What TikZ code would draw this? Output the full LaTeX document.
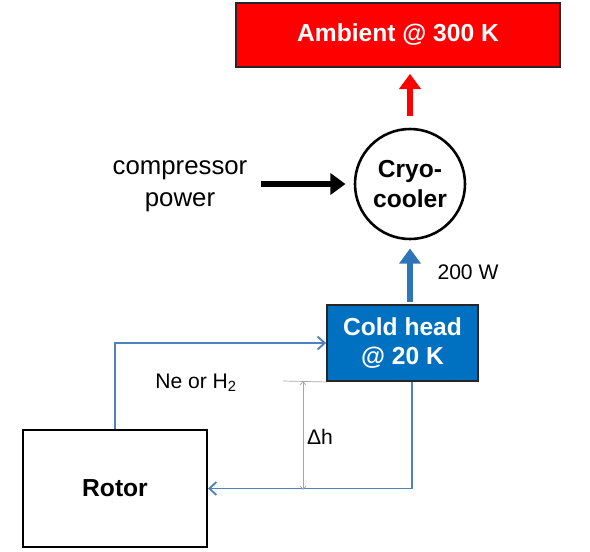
\documentclass[tikz,border=0pt]{standalone}
\usepackage{fontspec}
\setmainfont{Liberation Sans}
\usepackage{tikz}
\usetikzlibrary{
  positioning,
  arrows.meta,
  calc
}
\usepackage{xcolor}
\definecolor{hot}{HTML}{FF0000}
\definecolor{coldfill}{HTML}{0070C0}
\definecolor{pipe}{HTML}{4F81BD}
\definecolor{heatflow}{HTML}{2E75B6}
\definecolor{dimgrey}{HTML}{A6A6A6}

\begin{document}
\begin{tikzpicture}[
  x=0.03cm, y=-0.03cm,
  box/.style={draw=black!85, line width=1.6pt, font=\fontsize{21}{25}\selectfont\bfseries,
              align=center, inner sep=0pt},
  lbl/.style={font=\fontsize{22}{27}\selectfont, align=center},
  small/.style={font=\fontsize{18}{22}\selectfont},
  heat/.style={-{Triangle[length=13pt, width=18pt]}, line width=5.5pt},
  loop/.style={-{Straight Barb[length=6pt, width=11pt]}, line width=1.6pt, pipe},
  dim/.style={{Straight Barb[length=3pt, width=5pt]}-{Straight Barb[length=3pt, width=5pt]},
              line width=0.6pt, dimgrey}
]
  \useasboundingbox (0,0) rectangle (590,551);

  % Boxes
  \node[box, fill=hot, text=white, minimum width=9.72cm, minimum height=1.92cm]
    (ambient) at (398,35) {Ambient @ 300 K};
  \node[draw=black, line width=2.2pt, circle, minimum size=3.3cm, inner sep=0pt,
        font=\fontsize{21}{25}\selectfont\bfseries, align=center]
    (cryo) at (410,184) {Cryo-\\cooler};
  \node[box, fill=coldfill, text=white, minimum width=4.53cm, minimum height=2.28cm]
    (coldhead) at (402.5,343) {Cold head\\@ 20 K};
  \node[box, draw=black, fill=white, text=black, minimum width=5.52cm, minimum height=3.51cm]
    (rotor) at (115,488.5) {Rotor};

  % Heat flow
  \draw[heat, hot, shorten <=10pt, shorten >=5pt] (cryo.north) -- (cryo.north |- ambient.south);
  \draw[heat, heatflow, shorten <=2pt, shorten >=7pt] (cryo.south |- coldhead.north) -- (cryo.south);
  \node[small] (load) at (468,272) {200 W};

  \node[lbl] (power) at (180,186) {compressor\\power};
  \draw[heat, black, shorten <=8pt, shorten >=7pt] (power.east |- cryo.west) -- (cryo.west);

  % Coolant loop
  \draw[loop] (rotor.north) |- (coldhead.west);
  \draw[loop] ([xshift=0.29cm]coldhead.south) |- (rotor.east);
  \node[small] (fluid) at (196,383) {Ne or H\textsubscript{2}};

  % Height difference
  \coordinate (dimtop) at (303,381);
  \coordinate (dimbot) at (303,490);
  \draw[line width=0.6pt, dimgrey] (283,381) -- (coldhead.south west);
  \draw[dim] (dimtop) -- (dimbot);
  \node[small] (dh) at (320,437) {Δh};
\end{tikzpicture}
\end{document}
